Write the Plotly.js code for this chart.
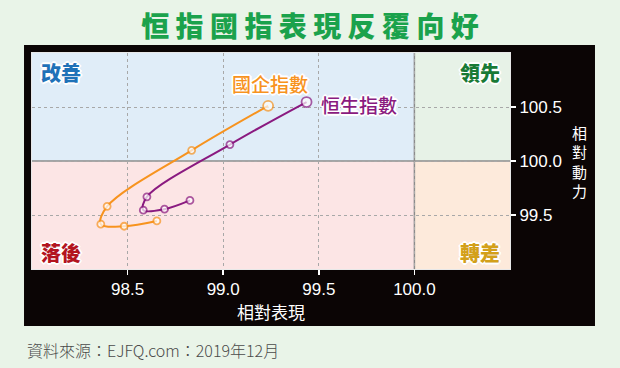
<!DOCTYPE html>
<html>
<head>
<meta charset="utf-8">
<script src="https://cdn.plot.ly/plotly-3.0.1.min.js"></script>
<style>
  html, body { margin: 0; padding: 0; background: #E9F4E8; }
  #chart { width: 620px; height: 368px; }
</style>
</head>
<body>
<div id="chart"></div>
<script>
// ---- data ----
const chartTitle = '恒 指 國 指 表 現 反 覆 向 好';
const xAxisTitle = '相對表現';
const yAxisTitle = '相對動力';
const sourceText = '資料來源：EJFQ.com：2019年12月';
const xTickVals = [98.5, 99.0, 99.5, 100.0];
const xTickText = ['98.5', '99.0', '99.5', '100.0'];
const yTickVals = [99.5, 100.0, 100.5];
const yTickText = ['99.5', '100.0', '100.5'];
const quadrantNames = ['改善', '領先', '落後', '轉差'];
const seriesNames = ['國企指數', '恒生指數'];
const hsceiX = [98.653, 98.482, 98.360, 98.393, 98.835, 99.235];
const hsceiY = [99.445, 99.396, 99.415, 99.580, 100.099, 100.511];
const hsiX = [98.826, 98.693, 98.582, 98.601, 99.035, 99.436];
const hsiY = [99.635, 99.554, 99.545, 99.668, 100.152, 100.546];
const xRange = [98.0, 100.5];
const yRange = [99.0, 101.0];
const centre = 100.0;

// ---- styling ----
const CJK = '"Noto Sans CJK TC", "Noto Sans CJK SC", sans-serif';
const NUM = '"Liberation Sans", Arial, sans-serif';
const halo = '1px 1px 0 #fff, -1px -1px 0 #fff, 1px -1px 0 #fff, -1px 1px 0 #fff, 2px 0 0 #fff, -2px 0 0 #fff, 0 2px 0 #fff, 0 -2px 0 #fff';
const orange = '#F7931E';
const purple = '#8A1A80';

function sizes(arr) { return arr.map((_, i) => i === arr.length - 1 ? 10 : 7); }

const traces = [
  {
    x: hsceiX, y: hsceiY, type: 'scatter', mode: 'lines+markers',
    line: { color: orange, width: 2, shape: 'spline', smoothing: 1 },
    marker: { size: sizes(hsceiX), color: '#ffffff', line: { color: orange, width: 1.8 } },
    hoverinfo: 'skip', showlegend: false
  },
  {
    x: hsiX, y: hsiY, type: 'scatter', mode: 'lines+markers',
    line: { color: purple, width: 2, shape: 'spline', smoothing: 1 },
    marker: { size: sizes(hsiX), color: '#ffffff', line: { color: purple, width: 1.8 } },
    hoverinfo: 'skip', showlegend: false
  }
];

const shapes = [
  { type: 'rect', xref: 'paper', yref: 'paper', x0: -0.0167, x1: 1.1778, y0: -0.2639, y1: 1.037,
    fillcolor: '#0B0505', line: { width: 0 }, layer: 'below' },
  { type: 'rect', xref: 'x', yref: 'y', x0: xRange[0], x1: centre, y0: centre, y1: yRange[1],
    fillcolor: '#E0EDF8', line: { width: 0 }, layer: 'below' },
  { type: 'rect', xref: 'x', yref: 'y', x0: centre, x1: xRange[1], y0: centre, y1: yRange[1],
    fillcolor: '#E7F2E7', line: { width: 0 }, layer: 'below' },
  { type: 'rect', xref: 'x', yref: 'y', x0: xRange[0], x1: centre, y0: yRange[0], y1: centre,
    fillcolor: '#FCE5E5', line: { width: 0 }, layer: 'below' },
  { type: 'rect', xref: 'x', yref: 'y', x0: centre, x1: xRange[1], y0: yRange[0], y1: centre,
    fillcolor: '#FDEADB', line: { width: 0 }, layer: 'below' },
  { type: 'line', xref: 'x', yref: 'y', x0: centre, x1: centre, y0: yRange[0], y1: yRange[1],
    line: { color: '#8C8C8C', width: 1.5 }, layer: 'below' },
  { type: 'line', xref: 'x', yref: 'y', x0: xRange[0], x1: xRange[1], y0: centre, y1: centre,
    line: { color: '#8C8C8C', width: 1.5 }, layer: 'below' }
];

const qFont = (c) => ({ family: CJK, size: 20, color: c, weight: 900, shadow: halo });
const annotations = [
  { text: quadrantNames[0], xref: 'paper', yref: 'paper', x: 0.0146, y: 0.912, xanchor: 'left', yanchor: 'middle', showarrow: false, font: qFont('#1F72B8') },
  { text: quadrantNames[1], xref: 'paper', yref: 'paper', x: 0.9833, y: 0.912, xanchor: 'right', yanchor: 'middle', showarrow: false, font: qFont('#197A36') },
  { text: quadrantNames[2], xref: 'paper', yref: 'paper', x: 0.0146, y: 0.0787, xanchor: 'left', yanchor: 'middle', showarrow: false, font: qFont('#B3141F') },
  { text: quadrantNames[3], xref: 'paper', yref: 'paper', x: 0.9833, y: 0.0787, xanchor: 'right', yanchor: 'middle', showarrow: false, font: qFont('#D3A019') },
  { text: seriesNames[0], xref: 'x', yref: 'y', x: 99.036, y: 100.722, xanchor: 'left', yanchor: 'middle', showarrow: false,
    font: { family: CJK, size: 19, color: orange, weight: 500, shadow: halo } },
  { text: seriesNames[1], xref: 'x', yref: 'y', x: 99.501, y: 100.519, xanchor: 'left', yanchor: 'middle', showarrow: false,
    font: { family: CJK, size: 19, color: purple, weight: 500, shadow: halo } },
  { text: sourceText, xref: 'paper', yref: 'paper', x: -0.0146, y: -0.3727, xanchor: 'left', yanchor: 'middle', showarrow: false,
    font: { family: CJK, size: 16, color: '#4A4A4A', weight: 300 } }
];

// vertical y-axis title: one character per annotation, stacked
yAxisTitle.split('').forEach((ch, i) => {
  const py = 132 + i * 19.5;            // pixel centre of each character
  annotations.push({
    text: ch, xref: 'paper', yref: 'paper', x: (579.5 - 32) / 478, y: 1 - (py - 53) / 216,
    xanchor: 'center', yanchor: 'middle', showarrow: false,
    font: { family: CJK, size: 15, color: '#ffffff' }
  });
});

const layout = {
  width: 620, height: 368,
  margin: { l: 32, r: 110, t: 53, b: 99, pad: 0 },
  paper_bgcolor: '#E9F4E8',
  plot_bgcolor: 'rgba(0,0,0,0)',
  title: { text: chartTitle, x: 0.5, xref: 'container', xanchor: 'center', y: 1 - 27 / 368, yanchor: 'middle',
    font: { family: CJK, size: 28, color: '#1BA24C', weight: 900 } },
  xaxis: {
    range: xRange, tickvals: xTickVals, ticktext: xTickText,
    showgrid: true, gridcolor: '#A8A8A8', griddash: 'dot', gridwidth: 1,
    zeroline: false, showline: true, linecolor: '#E8E8E8', linewidth: 1, mirror: true,
    ticks: 'outside', ticklen: 5, tickwidth: 1.5, tickcolor: '#ffffff',
    tickfont: { family: NUM, size: 17, color: '#ffffff' },
    title: { text: xAxisTitle, font: { family: CJK, size: 17, color: '#ffffff' }, standoff: 4 },
    fixedrange: true
  },
  yaxis: {
    range: yRange, tickvals: yTickVals, ticktext: yTickText, side: 'right',
    showgrid: true, gridcolor: '#A8A8A8', griddash: 'dot', gridwidth: 1,
    zeroline: false, showline: true, linecolor: '#E8E8E8', linewidth: 1, mirror: true,
    ticks: 'outside', ticklen: 5, tickwidth: 1.5, tickcolor: '#ffffff',
    tickfont: { family: NUM, size: 17, color: '#ffffff' },
    fixedrange: true
  },
  shapes: shapes,
  annotations: annotations,
  showlegend: false
};

Plotly.newPlot('chart', traces, layout, { displayModeBar: false, staticPlot: true });
</script>
</body>
</html>
